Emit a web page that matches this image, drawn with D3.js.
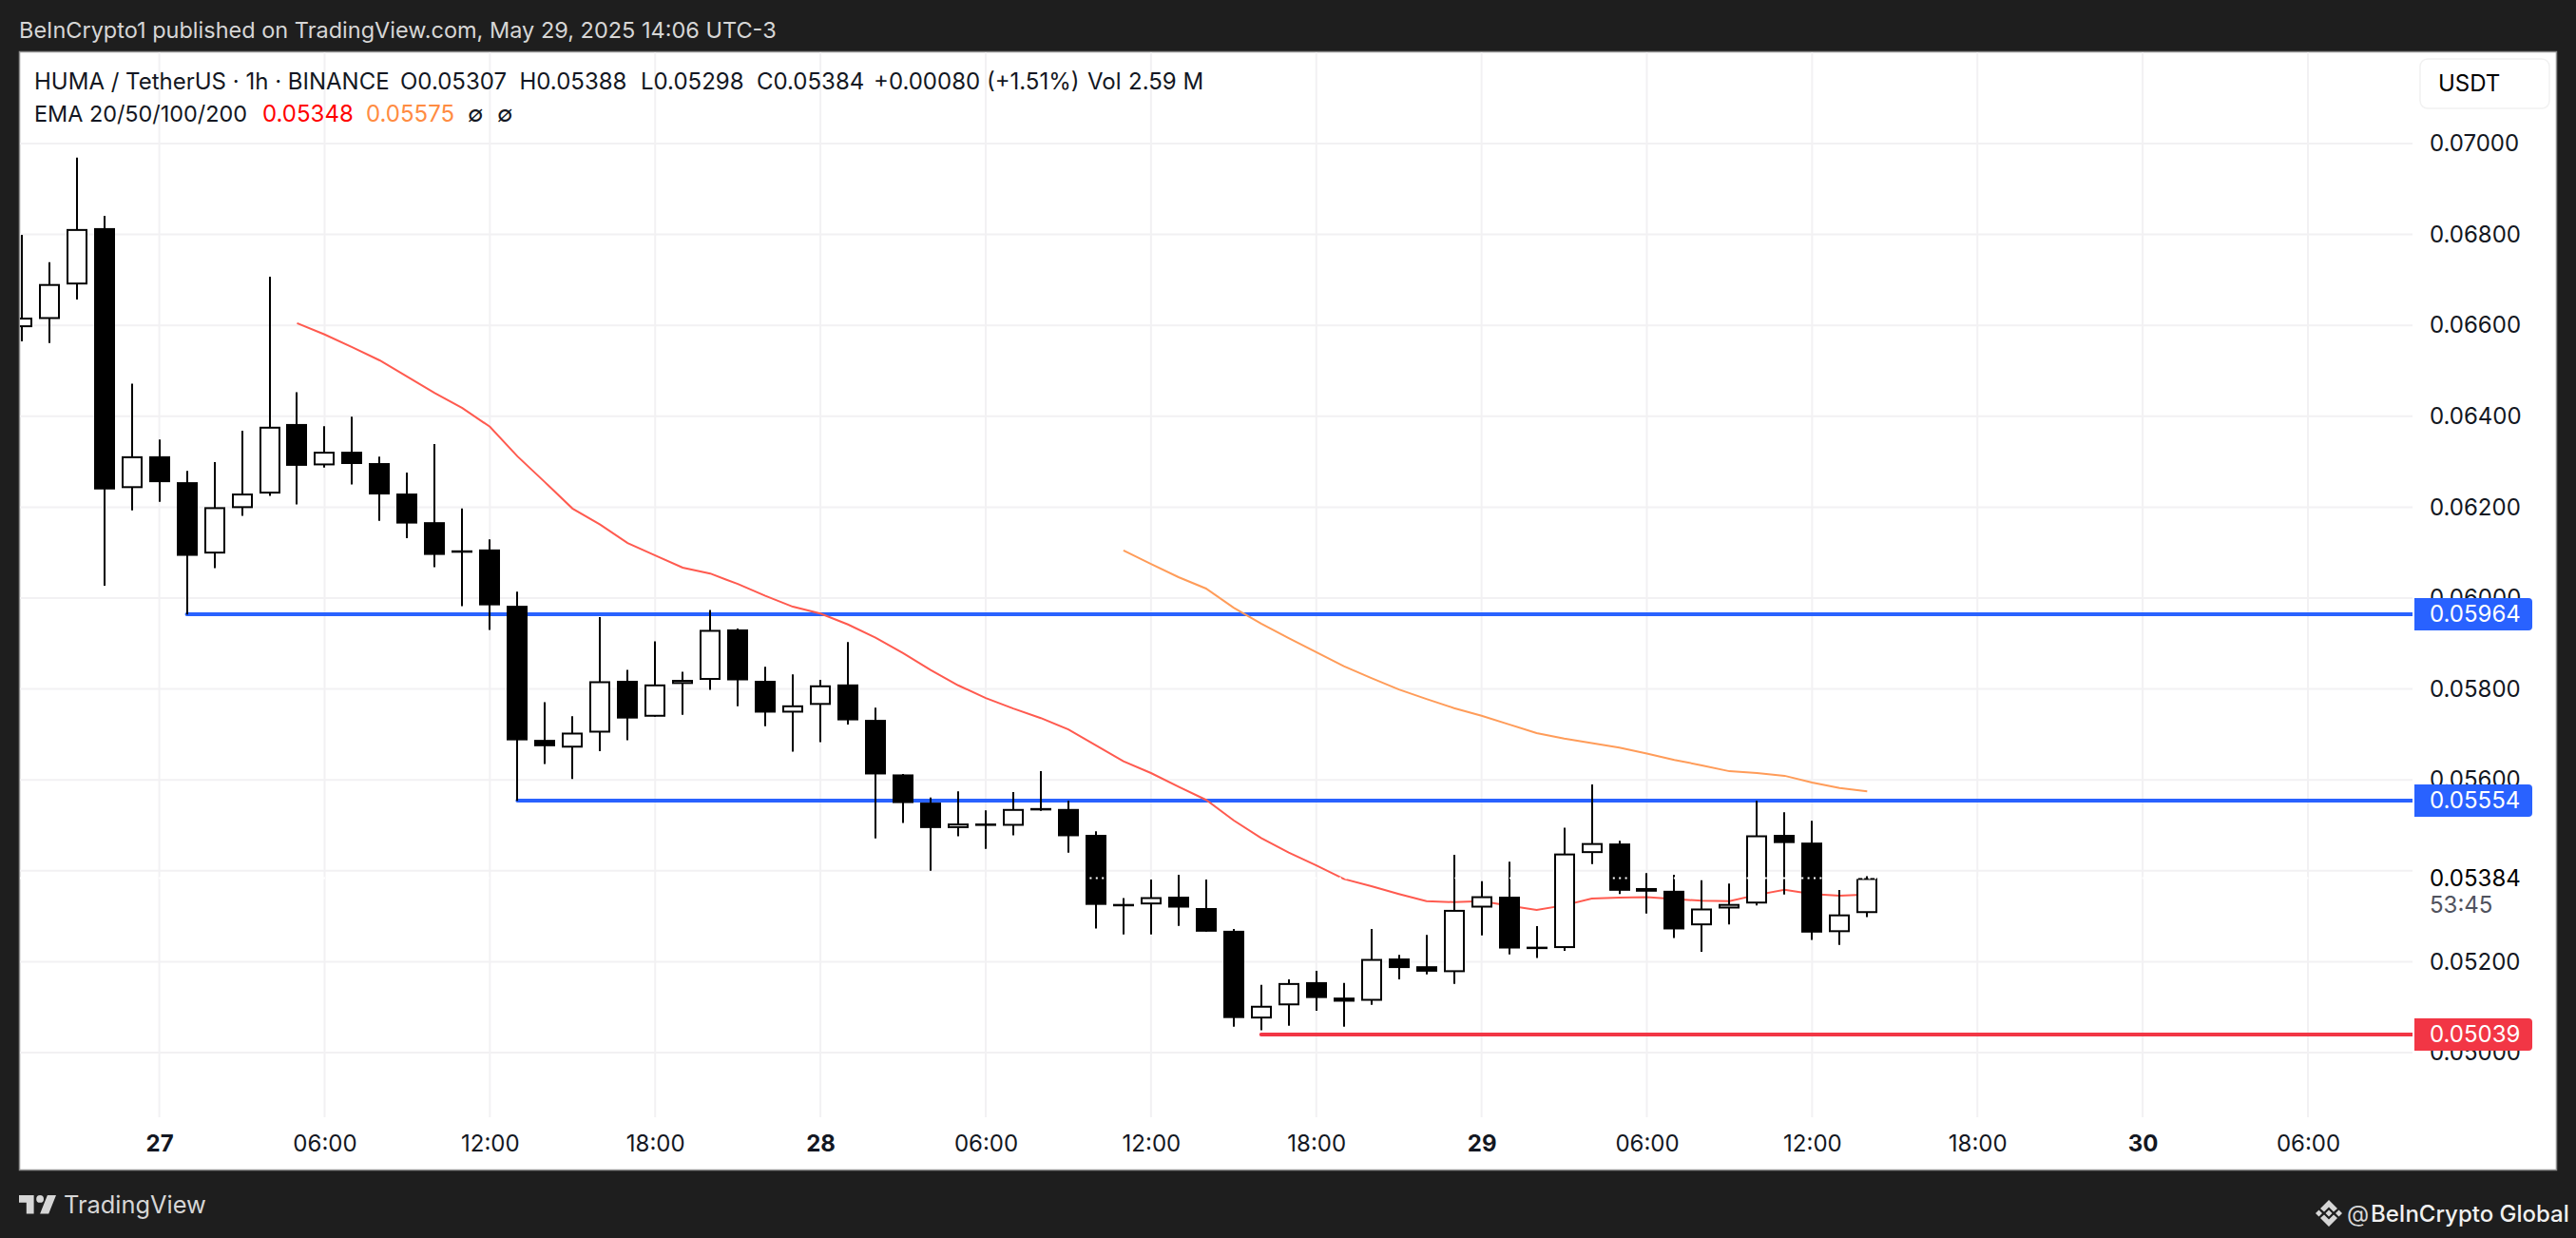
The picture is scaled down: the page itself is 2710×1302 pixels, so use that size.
<!DOCTYPE html>
<html>
<head>
<meta charset="utf-8">
<title>HUMA / TetherUS</title>
<script src="https://cdn.jsdelivr.net/npm/d3@7/dist/d3.min.js"></script>
<style>
  html, body { margin: 0; padding: 0; background: #1e1e1e; }
  svg { display: block; }
  text { font-family: Inter, "Noto Sans", sans-serif; }
</style>
</head>
<body>
<div id="chart"></div>
<script>
// hourly candles, first one is 26th 19:00, hour 0 is the "27" tick
const firstHour = -5;
const opens = [0.06596,0.06614,0.06690,0.06814,0.06242,0.06312,0.06255,0.06098,0.06198,0.06230,0.06383,0.06292,0.06322,0.06297,0.06230,0.06167,0.06105,0.06107,0.05983,0.05688,0.05671,0.05704,0.05818,0.05739,0.05811,0.05820,0.05931,0.05818,0.05748,0.05765,0.05810,0.05732,0.05612,0.05550,0.05494,0.05504,0.05499,0.05538,0.05536,0.05479,0.05327,0.05326,0.05343,0.05318,0.05268,0.05075,0.05104,0.05155,0.05121,0.05114,0.05207,0.05190,0.05177,0.05319,0.05343,0.05233,0.05230,0.05439,0.05460,0.05362,0.05356,0.05280,0.05317,0.05328,0.05479,0.05462,0.05265,0.05307];
const highs = [0.06799,0.06739,0.06969,0.06841,0.06472,0.06349,0.06280,0.06299,0.06368,0.06707,0.06453,0.06378,0.06399,0.06311,0.06276,0.06339,0.06197,0.06129,0.06014,0.05771,0.05740,0.05958,0.05842,0.05905,0.05838,0.05974,0.05933,0.05849,0.05832,0.05820,0.05903,0.05759,0.05613,0.05561,0.05575,0.05533,0.05573,0.05619,0.05554,0.05487,0.05340,0.05381,0.05391,0.05381,0.05272,0.05149,0.05161,0.05180,0.05153,0.05272,0.05215,0.05259,0.05435,0.05377,0.05420,0.05278,0.05495,0.05590,0.05466,0.05395,0.05391,0.05379,0.05372,0.05554,0.05529,0.05510,0.05358,0.05388];
const lows = [0.06565,0.06561,0.06657,0.06027,0.06193,0.06212,0.05964,0.06066,0.06181,0.06225,0.06206,0.06287,0.06250,0.06170,0.06132,0.06068,0.05982,0.05930,0.05554,0.05635,0.05602,0.05663,0.05687,0.05739,0.05743,0.05798,0.05762,0.05718,0.05662,0.05683,0.05722,0.05471,0.05505,0.05400,0.05476,0.05448,0.05478,0.05532,0.05440,0.05273,0.05260,0.05260,0.05279,0.05266,0.05057,0.05049,0.05059,0.05092,0.05057,0.05105,0.05161,0.05172,0.05151,0.05258,0.05216,0.05208,0.05224,0.05415,0.05349,0.05306,0.05252,0.05222,0.05282,0.05324,0.05348,0.05248,0.05237,0.05298];
const closes = [0.06617,0.06691,0.06812,0.06239,0.06312,0.06255,0.06093,0.06200,0.06230,0.06377,0.06291,0.06322,0.06295,0.06228,0.06164,0.06095,0.06104,0.05984,0.05687,0.05674,0.05704,0.05817,0.05735,0.05810,0.05820,0.05930,0.05819,0.05748,0.05764,0.05808,0.05731,0.05612,0.05549,0.05494,0.05504,0.05503,0.05536,0.05537,0.05476,0.05325,0.05326,0.05342,0.05319,0.05266,0.05076,0.05103,0.05153,0.05120,0.05112,0.05206,0.05186,0.05178,0.05314,0.05344,0.05229,0.05232,0.05438,0.05461,0.05356,0.05354,0.05271,0.05317,0.05327,0.05478,0.05461,0.05264,0.05304,0.05384];

// EMA 20 starts at hour 5, EMA 50 at hour 35
const ema20Start = 5;
const ema20 = [0.06605,0.06580,0.06552,0.06523,0.06487,0.06451,0.06418,0.06377,0.06312,0.06255,0.06197,0.06162,0.06121,0.06094,0.06067,0.06054,0.06031,0.06005,0.05981,0.05966,0.05942,0.05913,0.05879,0.05842,0.05808,0.05780,0.05757,0.05736,0.05711,0.05676,0.05641,0.05615,0.05585,0.05556,0.05511,0.05472,0.05440,0.05412,0.05382,0.05366,0.05349,0.05333,0.05331,0.05333,0.05323,0.05314,0.05324,0.05339,0.05341,0.05342,0.05338,0.05334,0.05333,0.05347,0.05358,0.05349,0.05345,0.05348];
const ema50Start = 35;
const ema50 = [0.06105,0.06075,0.06046,0.06021,0.05979,0.05944,0.05912,0.05881,0.05850,0.05824,0.05799,0.05778,0.05758,0.05741,0.05722,0.05703,0.05691,0.05681,0.05671,0.05658,0.05644,0.05632,0.05619,0.05615,0.05609,0.05594,0.05582,0.05575];

const priceTicks = [0.05,0.052,0.054,0.056,0.058,0.06,0.062,0.064,0.066,0.068,0.07];
// 0.05400 has no label, the last price sits there
const priceLabels = [0.05,0.052,0.056,0.058,0.06,0.062,0.064,0.066,0.068,0.07];
const timeTicks = [0,6,12,18,24,30,36,42,48,54,60,66,72,78];
const timeLabels = ['27','06:00','12:00','18:00','28','06:00','12:00','18:00','29','06:00','12:00','18:00','30','06:00'];
const dayLabels = ['27','28','29','30'];

// drawn levels: price, hour they start at, colour
const levelPrices = [0.05964,0.05554,0.05039];
const levelStarts = [1,13,40];
const levelColors = ['#2962ff','#2962ff','#f23645'];

const lastPrice = 0.05384;
const countdown = '53:45';

const width = 2710, height = 1302;
const pane = { left: 20, right: 2538, top: 54, bottom: 1175 };

const x = d3.scaleLinear().domain([0, 78]).range([167.6, 2428]);
const y = d3.scaleLinear().domain([0.05, 0.07]).range([1107, 151]);
const ink = '#131722';
const fmt = d3.format('.5f');

const svg = d3.select('#chart').append('svg')
    .attr('width', width)
    .attr('height', height);

svg.append('defs').append('clipPath').attr('id', 'paneClip')
  .append('rect')
    .attr('x', pane.left + 1)
    .attr('y', pane.top)
    .attr('width', pane.right - pane.left - 1)
    .attr('height', 1231 - pane.top);

// frame
svg.append('rect')
    .attr('x', 20.5).attr('y', 54.5)
    .attr('width', 2669).attr('height', 1176)
    .attr('fill', '#fff')
    .attr('stroke', '#8f8f8f')
    .attr('stroke-width', 1.5);

// grid
const gridColor = '#f2f1f3';
svg.append('g').selectAll('line').data(priceTicks).join('line')
    .attr('x1', pane.left + 1).attr('x2', pane.right)
    .attr('y1', d => y(d)).attr('y2', d => y(d))
    .attr('stroke', gridColor).attr('stroke-width', 2);
svg.append('g').selectAll('line').data(timeTicks).join('line')
    .attr('x1', d => x(d)).attr('x2', d => x(d))
    .attr('y1', pane.top + 1).attr('y2', pane.bottom)
    .attr('stroke', gridColor).attr('stroke-width', 2);

const plot = svg.append('g').attr('clip-path', 'url(#paneClip)');

// levels go under the candles
plot.append('g').selectAll('line').data(levelPrices).join('line')
    .attr('x1', (d, i) => x(levelStarts[i]))
    .attr('x2', pane.right)
    .attr('y1', d => Math.round(y(d))).attr('y2', d => Math.round(y(d)))
    .attr('stroke', (d, i) => levelColors[i])
    .attr('stroke-width', 4)
    .attr('stroke-linecap', 'round');

// ema lines
const lineFor = start => d3.line()
    .x((d, i) => x(start + i))
    .y(d => y(d));
plot.append('path').attr('d', lineFor(ema20Start)(ema20))
    .attr('fill', 'none').attr('stroke', '#ff5a4f').attr('stroke-width', 2);
plot.append('path').attr('d', lineFor(ema50Start)(ema50))
    .attr('fill', 'none').attr('stroke', '#ff9c59').attr('stroke-width', 2);

// candles
const candles = plot.append('g').selectAll('g').data(opens).join('g');
const cx = i => Math.round(x(firstHour + i));
candles.append('line')
    .attr('x1', (d, i) => cx(i)).attr('x2', (d, i) => cx(i))
    .attr('y1', (d, i) => y(highs[i])).attr('y2', (d, i) => y(lows[i]))
    .attr('stroke', '#000').attr('stroke-width', 2);
candles.append('rect')
    .attr('x', (d, i) => cx(i) - 10)
    .attr('width', 20)
    .attr('y', (d, i) => y(Math.max(d, closes[i])) + 1)
    .attr('height', (d, i) => Math.max(0.5, y(Math.min(d, closes[i])) - y(Math.max(d, closes[i])) - 2))
    .attr('fill', (d, i) => closes[i] >= d ? '#fff' : '#000')
    .attr('stroke', '#000')
    .attr('stroke-width', 2);

// white dotted last price line
plot.append('line')
    .attr('x1', pane.left).attr('x2', pane.right)
    .attr('y1', y(lastPrice)).attr('y2', y(lastPrice))
    .attr('stroke', '#fff').attr('stroke-width', 2)
    .attr('stroke-dasharray', '2 4.4');

// time axis
const timeAxis = d3.axisBottom(x)
    .tickValues(timeTicks)
    .tickSize(0)
    .tickPadding(0)
    .tickFormat((d, i) => timeLabels[i]);
const gx = svg.append('g').attr('transform', 'translate(0,1194)').call(timeAxis);
gx.select('.domain').remove();
gx.selectAll('text')
    .attr('dy', '0.71em')
    .attr('font-size', 24)
    .attr('font-family', 'Inter')
    .attr('fill', ink)
    .attr('font-weight', (d, i) => dayLabels.includes(timeLabels[i]) ? 700 : 400);

// price axis
const priceAxis = d3.axisRight(y)
    .tickValues(priceLabels)
    .tickSize(0)
    .tickPadding(0)
    .tickFormat(fmt);
const gy = svg.append('g').attr('transform', 'translate(2556,0)').call(priceAxis);
gy.select('.domain').remove();
gy.selectAll('text')
    .attr('font-size', 24)
    .attr('font-family', 'Inter')
    .attr('fill', ink);

// last price label
svg.append('text')
    .attr('x', 2556).attr('y', y(lastPrice))
    .attr('dy', '0.35em')
    .attr('font-size', 24).attr('fill', '#000')
    .text(fmt(lastPrice));
svg.append('text')
    .attr('x', 2556).attr('y', y(lastPrice) + 28)
    .attr('dy', '0.35em')
    .attr('font-size', 24).attr('fill', '#50535e')
    .text(countdown);

// level labels on the axis
const tags = svg.append('g').selectAll('g').data(levelPrices).join('g')
    .attr('transform', d => `translate(2540,${Math.round(y(d))})`);
tags.append('path')
    .attr('d', 'M0,-17H120a4,4 0 0 1 4,4V13a4,4 0 0 1 -4,4H0Z')
    .attr('fill', (d, i) => levelColors[i]);
tags.append('text')
    .attr('x', 16)
    .attr('dy', '0.35em')
    .attr('font-size', 24)
    .attr('fill', '#fff')
    .text(d => fmt(d));

// currency box
svg.append('rect')
    .attr('x', 2546).attr('y', 62).attr('width', 136).attr('height', 52)
    .attr('rx', 8)
    .attr('fill', '#fff').attr('stroke', '#f1f1f1').attr('stroke-width', 1.5);
svg.append('text')
    .attr('x', 2565).attr('y', 96)
    .attr('font-size', 24).attr('fill', '#000')
    .text('USDT');

// legend
const legendTop = [
  ['HUMA / TetherUS · 1h · BINANCE', 36],
  ['O0.05307', 421],
  ['H0.05388', 546.5],
  ['L0.05298', 674],
  ['C0.05384', 796],
  ['+0.00080 (+1.51%)', 919],
  ['Vol', 1144],
  ['2.59 M', 1187]
];
svg.append('g').selectAll('text').data(legendTop).join('text')
    .attr('x', d => d[1]).attr('y', 94)
    .attr('font-size', 24).attr('fill', ink)
    .text(d => d[0]);

const legendEma = [
  ['EMA 20/50/100/200', 36, ink, 23.4],
  ['0.05348', 276, '#ff0000', 24],
  ['0.05575', 385, '#ff8c42', 24],
  ['∅', 492, ink, 24],
  ['∅', 523, ink, 24]
];
svg.append('g').selectAll('text').data(legendEma).join('text')
    .attr('x', d => d[1]).attr('y', 127.5)
    .attr('font-size', d => d[3]).attr('fill', d => d[2])
    .text(d => d[0]);

// header and footer
svg.append('text')
    .attr('x', 20).attr('y', 39.5)
    .attr('font-size', 23.5).attr('fill', '#d6d6d6')
    .text('BeInCrypto1 published on TradingView.com, May 29, 2025 14:06 UTC-3');

svg.append('path')
    .attr('d', 'M14 6H2v6h6v9h6V6zm12 15h-7l6-15h7l-6 15zm-7-9a3 3 0 1 0 0-6 3 3 0 0 0 0 6z')
    .attr('transform', 'translate(17.4,1249.2) scale(1.3)')
    .attr('fill', '#d6d6d6');
svg.append('text')
    .attr('x', 67).attr('y', 1276)
    .attr('font-size', 25.4).attr('fill', '#d6d6d6')
    .text('TradingView');

const badge = svg.append('g').attr('transform', 'translate(2450,1276)').attr('fill', '#d6d6d6');
badge.append('path').attr('d', 'M0,-14 L9,-5 L5,-1.5 L0,-6.5 L-5,-1.5 L-9,-5 Z');
badge.append('path').attr('d', 'M0,14 L9,5 L5,1.5 L0,6.5 L-5,1.5 L-9,5 Z');
badge.append('path').attr('d', 'M-14,0 L-10.5,-3.5 L-7,0 L-10.5,3.5 Z');
badge.append('path').attr('d', 'M14,0 L10.5,-3.5 L7,0 L10.5,3.5 Z');
badge.append('path').attr('d', 'M0,-3.5 L3.5,0 L0,3.5 L-3.5,0 Z');

svg.append('text')
    .attr('x', 2469).attr('y', 1285)
    .attr('font-size', 24).attr('fill', '#d6d6d6')
    .text('@');
svg.append('text')
    .attr('x', 2494).attr('y', 1285)
    .attr('font-size', 24).attr('font-weight', 500).attr('fill', '#f0f0f0')
    .text('BeInCrypto Global');
</script>
</body>
</html>
